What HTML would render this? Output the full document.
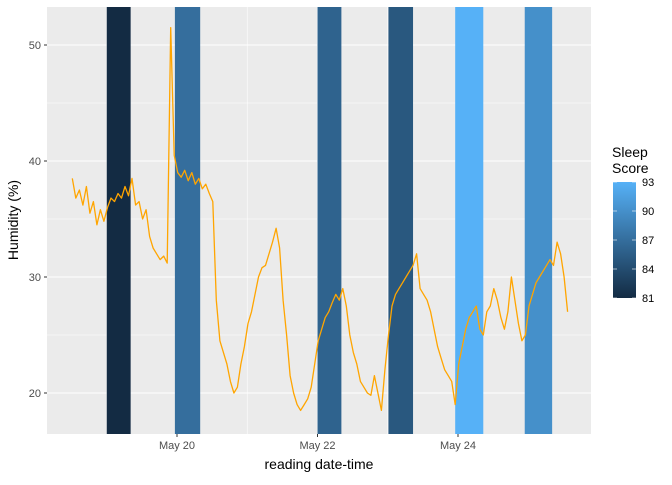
<!DOCTYPE html>
<html><head><meta charset="utf-8"><style>
body{margin:0;background:#fff;font-family:"Liberation Sans",sans-serif}
</style></head><body>
<svg id="chart" width="672" height="480" xmlns="http://www.w3.org/2000/svg" font-family="Liberation Sans, sans-serif">
<defs><linearGradient id="lg" x1="0" y1="1" x2="0" y2="0"><stop offset="0" stop-color="#132B43"/><stop offset="1" stop-color="#56B1F7"/></linearGradient></defs>
<rect x="47" y="7" width="544" height="427" fill="#ebebeb"/>
<g id="grid"></g><g id="bands"></g><g id="line"></g><g id="axes"></g>
<text transform="translate(18,220) rotate(-90)" text-anchor="middle" font-size="14" fill="#000">Humidity (%)</text>
<text x="319" y="469" text-anchor="middle" font-size="14" fill="#000">reading date-time</text>
<g>
<text x="612" y="157" font-size="14">Sleep</text>
<text x="612" y="173" font-size="14">Score</text>
<rect x="613" y="182" width="23" height="116" fill="url(#lg)"/>
<g id="leg"></g>
</g>
</svg>
<script>
const bandStart=[-1.0,-0.03,2.0,3.01,3.96,4.95];
const bandEnd=[-0.66,0.33,2.34,3.36,4.36,5.34];
const bandScore=[81,87,86,85,93,90];
const yTicks=[20,30,40,50];
const xTickDays=[0,2,4];
const xTickLabels=["May 20","May 22","May 24"];
const legendTicks=[81,84,87,90,93];
const humidity=[38.5,36.8,37.5,36.2,37.8,35.5,36.5,34.5,35.8,34.8,36.0,36.8,36.5,37.2,36.8,37.8,37.0,38.5,36.2,36.5,35.0,35.8,33.5,32.5,32.0,31.5,31.8,31.2,51.5,40.5,39.0,38.6,39.2,38.3,39.0,38.0,38.5,37.6,38.0,37.2,36.5,28.0,24.5,23.5,22.5,21.0,20.0,20.5,22.5,24.0,26.0,27.0,28.5,30.0,30.8,31.0,32.0,33.0,34.2,32.5,28.0,25.0,21.5,20.0,19.0,18.5,19.0,19.5,20.5,22.5,24.5,25.5,26.5,27.0,27.8,28.5,28.0,29.0,27.5,25.0,23.5,22.5,21.0,20.5,20.0,19.8,21.5,20.0,18.5,22.0,25.0,27.5,28.5,29.0,29.5,30.0,30.5,31.0,32.0,29.0,28.5,28.0,27.0,25.5,24.0,23.0,22.0,21.5,21.0,19.0,22.5,24.0,25.5,26.5,27.0,27.5,25.5,25.0,27.0,27.5,29.0,28.0,26.5,25.5,27.0,30.0,28.0,26.0,24.5,25.0,27.5,28.5,29.5,30.0,30.5,31.0,31.5,31.0,33.0,32.0,30.0,27.0];
const startDay=-1.49, stepDay=0.05;
const times=[];for(let i=0;i<humidity.length;i++)times.push(startDay+i*stepDay);

const NS="http://www.w3.org/2000/svg";
const X=d=>177+d*70.25, Y=v=>393-(v-20)*11.6;
function mk(t,a,p){const e=document.createElementNS(NS,t);for(const k in a)e.setAttribute(k,a[k]);p.appendChild(e);return e;}
const grid=document.getElementById('grid');
[25,35,45].forEach(v=>{const e=mk('line',{x1:47,x2:591,y1:Y(v),y2:Y(v),stroke:'#fff','stroke-width':0.55},grid);});
[-1,1,3,5].forEach(d=>{const e=mk('line',{x1:X(d),x2:X(d),y1:7,y2:434,stroke:'#fff','stroke-width':0.55},grid);});
yTicks.forEach(v=>{const e=mk('line',{x1:47,x2:591,y1:Y(v),y2:Y(v),stroke:'#fff','stroke-width':1.1},grid);});
xTickDays.forEach(d=>{const e=mk('line',{x1:X(d),x2:X(d),y1:7,y2:434,stroke:'#fff','stroke-width':1.1},grid);});
const c0=[0x13,0x2B,0x43],c1=[0x56,0xB1,0xF7];
function col(s){const t=(s-81)/12;return 'rgb('+c0.map((c,i)=>Math.round(c+(c1[i]-c)*t)).join(',')+')';}
const bands=document.getElementById('bands');
bandStart.forEach((s,i)=>{const e=mk('rect',{x:X(s),y:7,width:X(bandEnd[i])-X(s),height:427,fill:col(bandScore[i])},bands);});
const pts=times.map((t,i)=>X(t).toFixed(1)+','+Y(humidity[i]).toFixed(1)).join(' ');
const pl=mk('polyline',{points:pts,fill:'none',stroke:'#FFA500','stroke-width':1.3,'stroke-linejoin':'round'},document.getElementById('line'));


const ax=document.getElementById('axes');
yTicks.forEach(v=>{mk('line',{x1:44,x2:47,y1:Y(v),y2:Y(v),stroke:'#333'},ax);const t=mk('text',{x:41,y:Y(v)+4,'text-anchor':'end','font-size':11,fill:'#4d4d4d'},ax);t.textContent=v;});
xTickDays.forEach((d,i)=>{mk('line',{x1:X(d),x2:X(d),y1:434,y2:437,stroke:'#333'},ax);const t=mk('text',{x:X(d),y:449,'text-anchor':'middle','font-size':11,fill:'#4d4d4d'},ax);t.textContent=xTickLabels[i];});
const leg=document.getElementById('leg');
legendTicks.forEach(v=>{const y=298-(v-81)/12*116;mk('line',{x1:613,x2:617,y1:y,y2:y,stroke:'#fff','stroke-width':0.6},leg);mk('line',{x1:632,x2:636,y1:y,y2:y,stroke:'#fff','stroke-width':0.6},leg);const t=mk('text',{x:642,y:y+4,'font-size':11,fill:'#000'},leg);t.textContent=v;});
</script>
</body></html>
